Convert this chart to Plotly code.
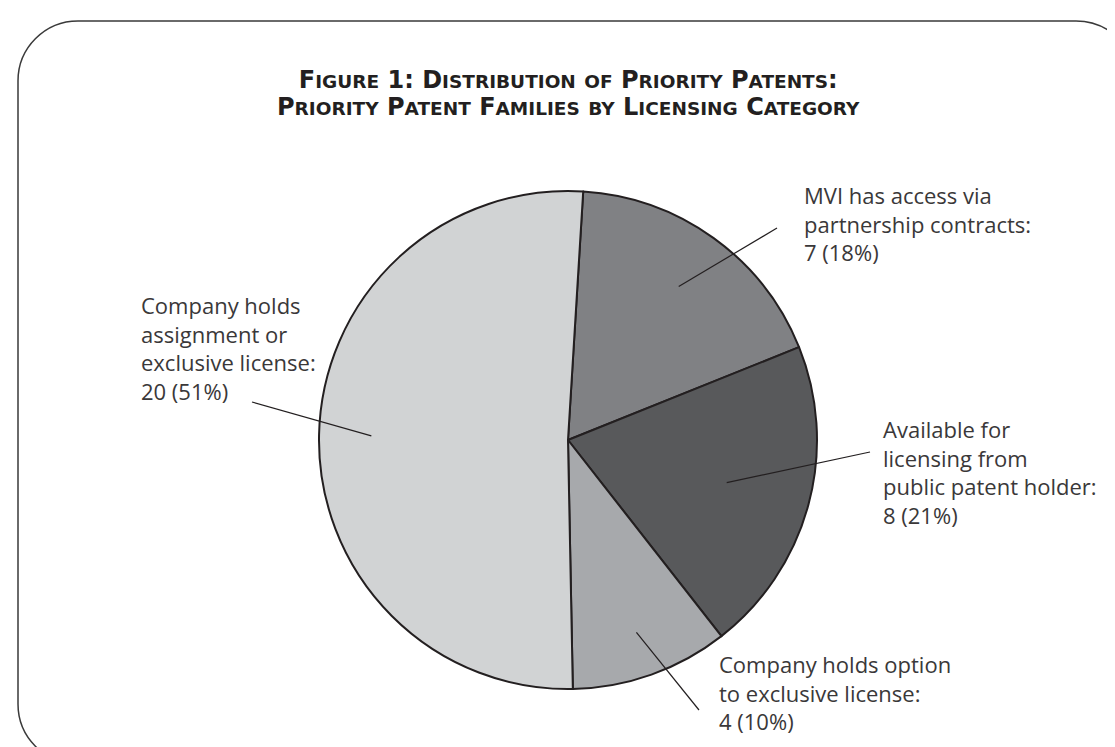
import math
import plotly.graph_objects as go

# ---------------- data ----------------
categories = [
    "MVI has access via<br>partnership contracts:",
    "Available for<br>licensing from<br>public patent holder:",
    "Company holds option<br>to exclusive license:",
    "Company holds<br>assignment or<br>exclusive license:",
]
counts = [7, 8, 4, 20]
pct_labels = ["18%", "21%", "10%", "51%"]
colors = ["#808184", "#58595b", "#a7a9ac", "#d1d3d4"]

title_lines = [
    "Figure 1: Distribution of Priority Patents:",
    "Priority Patent Families by Licensing Category",
]

W, H = 1115, 747
CX, CY, R = 560, 432, 249
ROT = 3.5

def px(x):
    return x / W

def py(y):
    return 1 - y / H

# label layout (pixel position of text block top-left, leader outer end, inner radius frac)
label_pos = [
    dict(x=794, y=170, lx=769, ly=220, f=0.76),
    dict(x=873, y=404, lx=862, ly=444, f=0.66),
    dict(x=709, y=639, lx=691, ly=702, f=0.82),
    dict(x=131, y=280, lx=244, ly=394, f=0.79),
]

fig = go.Figure()
fig.add_trace(go.Pie(
    values=counts,
    labels=[c.replace("<br>", " ") for c in categories],
    marker=dict(colors=colors, line=dict(color="#231f20", width=2)),
    sort=False,
    direction="clockwise",
    rotation=ROT,
    textinfo="none",
    hoverinfo="label+value+percent",
    showlegend=False,
    domain=dict(x=[px(CX - R), px(CX + R)], y=[py(CY + R), py(CY - R)]),
))

font_family = "Open Sans, Noto Sans, sans-serif"
annotations = []
shapes = []
total = sum(counts)
cum = 0
for cat, n, p, lp in zip(categories, counts, pct_labels, label_pos):
    mid = ROT + (cum + n / 2) / total * 360
    cum += n
    a = math.radians(mid)
    ix = CX + lp["f"] * R * math.sin(a)
    iy = CY - lp["f"] * R * math.cos(a)
    shapes.append(dict(type="line", xref="paper", yref="paper",
                       x0=px(ix), y0=py(iy), x1=px(lp["lx"]), y1=py(lp["ly"]),
                       line=dict(color="#231f20", width=1.2)))
    annotations.append(dict(
        x=px(lp["x"]), y=py(lp["y"]), xref="paper", yref="paper",
        xanchor="left", yanchor="top", align="left", showarrow=False,
        text=f"{cat}<br>{n} ({p})",
        font=dict(family=font_family, size=22, color="#3a3839"),
    ))

def smallcaps(s, big=24, small=18.5):
    out = []
    for ch in s:
        if ch.isalpha() and ch.islower():
            out.append((small, ch.upper()))
        else:
            out.append((big, ch))
    res = []
    cur_size, cur = None, ""
    for size, ch in out:
        if size != cur_size and cur:
            res.append(f'<span style="font-size:{cur_size}px">{cur}</span>')
            cur = ""
        cur_size = size
        cur += ch
    if cur:
        res.append(f'<span style="font-size:{cur_size}px">{cur}</span>')
    return "".join(res)

annotations.append(dict(
    x=px(560), y=py(86), xref="paper", yref="paper",
    xanchor="center", yanchor="middle", align="center", showarrow=False,
    text="<br>".join(f"<b>{smallcaps(t)}</b>" for t in title_lines),
    font=dict(family="DejaVu Sans, sans-serif", size=21, color="#231f20"),
))

# rounded frame
L, T, Rt, B, rr = 10, 13, 1128, 756, 60
k = 0.5523 * rr
pts = [
    f"M {px(L + rr)},{py(T)}",
    f"L {px(Rt - rr)},{py(T)}",
    f"C {px(Rt - rr + k)},{py(T)} {px(Rt)},{py(T + rr - k)} {px(Rt)},{py(T + rr)}",
    f"L {px(Rt)},{py(B - rr)}",
    f"C {px(Rt)},{py(B - rr + k)} {px(Rt - rr + k)},{py(B)} {px(Rt - rr)},{py(B)}",
    f"L {px(L + rr)},{py(B)}",
    f"C {px(L + rr - k)},{py(B)} {px(L)},{py(B - rr + k)} {px(L)},{py(B - rr)}",
    f"L {px(L)},{py(T + rr)}",
    f"C {px(L)},{py(T + rr - k)} {px(L + rr - k)},{py(T)} {px(L + rr)},{py(T)} Z",
]
shapes.append(dict(type="path", xref="paper", yref="paper", path=" ".join(pts),
                   line=dict(color="#3a3a3a", width=1.5), layer="below"))

fig.update_layout(
    width=W, height=H,
    margin=dict(l=0, r=0, t=0, b=0),
    paper_bgcolor="white", plot_bgcolor="white",
    annotations=annotations, shapes=shapes,
)

fig.write_html("out.html")
